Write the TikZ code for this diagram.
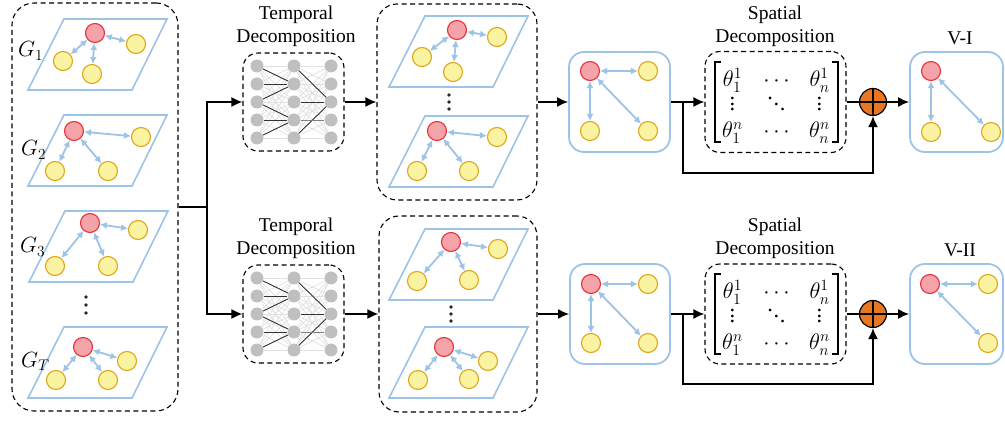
\RequirePackage{fix-cm}
\documentclass[tikz,border=0pt]{standalone}
\usepackage{fontspec}
\setmainfont{Liberation Serif}
\usetikzlibrary{arrows.meta}
\definecolor{eblue}{HTML}{9DC3E6}
\definecolor{rfill}{HTML}{F4A3A8}
\definecolor{rdraw}{HTML}{E8303A}
\definecolor{yfill}{HTML}{FAF4A2}
\definecolor{ydraw}{HTML}{DDA718}
\definecolor{nngray}{HTML}{BFBFBF}
\definecolor{porange}{HTML}{E87722}
\tikzset{
 rn/.style={circle, fill=rfill, draw=rdraw, line width=1.1pt, minimum size=19pt, inner sep=0pt},
 yn/.style={circle, fill=yfill, draw=ydraw, line width=1.1pt, minimum size=19pt, inner sep=0pt},
 ge/.style={draw=eblue, line width=1.8pt, {Latex[length=7pt,width=7pt]}-{Latex[length=7pt,width=7pt]}},
 plane/.style={draw=eblue, line width=1.6pt},
 dbox/.style={draw, dash pattern=on 5pt off 3.5pt, line width=1.1pt, rounded corners=18pt, inner sep=0pt},
 bbox/.style={draw=eblue, line width=1.8pt, rounded corners=15pt, inner sep=0pt},
 arr/.style={line width=1.6pt, -{Latex[length=11pt,width=10pt]}},
 ln/.style={line width=1.6pt},
 nnn/.style={circle, fill=nngray, minimum size=13pt, inner sep=0pt},
 nnlight/.style={draw=black!12, line width=0.7pt},
 nndark/.style={draw=black!80, line width=0.9pt},
 nnmid/.style={draw=black!50, line width=0.9pt},
 lbl/.style={font=\fontsize{19.5}{23}\selectfont, anchor=base, inner sep=0pt},
 glbl/.style={font=\fontsize{22}{26}\selectfont, anchor=base west, inner sep=0pt},
 ment/.style={font=\fontsize{22.5}{27}\selectfont, anchor=base, inner sep=0pt},
 plusn/.style={circle, fill=porange, draw=black, line width=1.2pt, minimum size=27pt, inner sep=0pt},
 brk/.style={line width=1.5pt},
 edot/.style={circle, fill=black!85, minimum size=3.6pt, inner sep=0pt},
}
\newcommand{\gsub}[6]{%
 \draw[plane] (#2) ++(36,-71) -- ++(103,0) -- ++(-35,71) -- ++(-104,0) -- cycle;
 \node[rn] (#1r) at (#3) {};
 \node[yn] (#1a) at (#4) {};
 \node[yn] (#1b) at (#5) {};
 \node[yn] (#1c) at (#6) {};
 \draw[ge] (#1r) -- (#1a);
 \draw[ge] (#1r) -- (#1b);
 \draw[ge] (#1r) -- (#1c);
}
\newcommand{\nnet}[3]{%
 \foreach \c/\dx in {1/-37,2/0,3/37}{
  \foreach \r/\dy in {1/-36,2/-18,3/0,4/18,5/36}{
    \node[nnn] (#1c\c r\r) at ({#2+\dx},{#3+\dy}) {};
  }}
 \foreach \i in {1,...,5}{\foreach \j in {1,...,5}{
   \draw[nnlight] (#1c1r\i) -- (#1c2r\j);
   \draw[nnlight] (#1c2r\i) -- (#1c3r\j);}}
 \foreach \i/\j in {1/2,2/2,3/2,3/4,4/4,5/4}{\draw[nndark] (#1c1r\i) -- (#1c2r\j);}
 \foreach \i/\j in {1/3,3/3,5/3}{\draw[nndark] (#1c2r\i) -- (#1c3r\j);}
 \draw[nnmid] (#1c2r4) -- (#1c3r4);
}
\newcommand{\myvd}{\vbox{\baselineskip=5.5pt\lineskiplimit=0pt\hbox{.}\hbox{.}\hbox{.}}}
\newcommand{\mydd}{\hbox{\raise11pt\hbox{.}\kern0.6pt\raise5.5pt\hbox{.}\kern0.6pt\hbox{.}}}
\newcommand{\tmat}[3]{%
 \node[ment] (#1a) at ({#2-43},{#3-15}) {$\theta_1^1$};
 \node[ment] (#1b) at ({#2+1},{#3-15}) {$\cdots$};
 \node[ment] (#1c) at ({#2+44},{#3-15}) {$\theta_n^1$};
 \node[ment] (#1d) at ({#2-43},{#3+9}) {\myvd};
 \node[ment] (#1e) at ({#2+1},{#3+9}) {\mydd};
 \node[ment] (#1f) at ({#2+44},{#3+9}) {\myvd};
 \node[ment] (#1g) at ({#2-43},{#3+36}) {$\theta_1^n$};
 \node[ment] (#1h) at ({#2+1},{#3+36}) {$\cdots$};
 \node[ment] (#1i) at ({#2+44},{#3+36}) {$\theta_n^n$};
 \draw[brk] ({#2-54.5},{#3-40}) -- ({#2-60.5},{#3-40}) -- ({#2-60.5},{#3+40}) -- ({#2-54.5},{#3+40});
 \draw[brk] ({#2+56.5},{#3-40}) -- ({#2+62.5},{#3-40}) -- ({#2+62.5},{#3+40}) -- ({#2+56.5},{#3+40});
}
\begin{document}
\begin{tikzpicture}[x=1pt,y=-1pt]
\useasboundingbox (0,0) rectangle (1005,422);
% left dashed box
\node[dbox, rounded corners=22pt, minimum width=166pt, minimum height=408pt] (L) at (95,207) {};
\gsub{ga}{28,90}{95,33}{136,44}{63,61}{92,74}
\gsub{gb}{28,186}{74,131}{141,137}{55,171}{108,171}
\gsub{gc}{29,282}{90,223}{138,230}{55,266}{108,266}
\gsub{gt}{28,398}{83,347}{127,361}{56,380}{108,380}
\node[glbl] (la) at (18,57) {$G_1$};
\node[glbl] (lb) at (21,156) {$G_2$};
\node[glbl] (lc) at (20,253) {$G_3$};
\node[glbl] (lt) at (21,367) {$G_T$};
\foreach \y in {297,305,313} \node[edot] at (86,\y) {};
% temporal boxes
\node[dbox, rounded corners=15pt, minimum width=101pt, minimum height=98pt] (T1) at (293.5,102) {};
\node[dbox, rounded corners=15pt, minimum width=101pt, minimum height=98pt] (T2) at (293.5,314) {};
\nnet{na}{294}{102}
\nnet{nb}{294}{314}
\node[lbl] (tl1) at (296,20) {Temporal};
\node[lbl] (tl2) at (296,43) {Decomposition};
\node[lbl] (tl3) at (296,232) {Temporal};
\node[lbl] (tl4) at (296,255) {Decomposition};
% middle dashed boxes
\node[dbox, rounded corners=20pt, minimum width=160pt, minimum height=196pt] (M1) at (457,102) {};
\node[dbox, rounded corners=20pt, minimum width=158pt, minimum height=196pt] (M2) at (458,314) {};
\gsub{pa}{389,87}{457,30}{497,37}{422,57}{453,72}
\gsub{pb}{389,187}{437,131}{497,137}{417,171}{469,171}
\gsub{pc}{389,300}{451,242}{498,249}{417,281}{469,280}
\gsub{pd}{389,398}{444,347}{488,361}{418,380}{469,379}
\foreach \y in {95,102,109} \node[edot] at (449,\y) {};
\foreach \y in {307,314,321} \node[edot] at (451,\y) {};
% blue graph boxes
\node[bbox, minimum width=101pt, minimum height=100pt] (B1) at (619.5,102) {};
\node[bbox, minimum width=100pt, minimum height=100pt] (B2) at (620,314) {};
\node[rn] (b1r) at (590,71) {};
\node[yn] (b1a) at (648,71) {};
\node[yn] (b1b) at (590,131) {};
\node[yn] (b1c) at (648,131) {};
\draw[ge] (b1r) -- (b1a); \draw[ge] (b1r) -- (b1b); \draw[ge] (b1r) -- (b1c);
\node[rn] (b2r) at (591,284) {};
\node[yn] (b2a) at (648,284) {};
\node[yn] (b2b) at (591,343) {};
\node[yn] (b2c) at (648,343) {};
\draw[ge] (b2r) -- (b2a); \draw[ge] (b2r) -- (b2b); \draw[ge] (b2r) -- (b2c);
% spatial matrices
\node[dbox, rounded corners=15pt, minimum width=141pt, minimum height=101pt] (X1) at (775.5,102) {};
\node[dbox, rounded corners=15pt, minimum width=141pt, minimum height=100pt] (X2) at (775.5,314) {};
\tmat{ma}{775.5}{102}
\tmat{mb}{775.5}{314}
\node[lbl] (sl1) at (775,20) {Spatial};
\node[lbl] (sl2) at (775,43) {Decomposition};
\node[lbl] (sl3) at (775,232) {Spatial};
\node[lbl] (sl4) at (775,255) {Decomposition};
% plus nodes
\node[plusn] (P1) at (873,102) {};
\draw[line width=1.2pt] (P1.north) -- (P1.south) (P1.west) -- (P1.east);
\node[plusn] (P2) at (873,314) {};
\draw[line width=1.2pt] (P2.north) -- (P2.south) (P2.west) -- (P2.east);
% output boxes
\node[bbox, minimum width=93pt, minimum height=100pt] (V1) at (956.5,102) {};
\node[bbox, minimum width=93pt, minimum height=100pt] (V2) at (956.5,314) {};
\node[lbl] (vl1) at (960,45) {V-I};
\node[lbl] (vl2) at (960,257) {V-II};
\node[rn] (v1r) at (931,71) {};
\node[yn] (v1b) at (931,132) {};
\node[yn] (v1c) at (991,132) {};
\draw[ge] (v1r) -- (v1b); \draw[ge] (v1r) -- (v1c);
\node[rn] (v2r) at (930,284) {};
\node[yn] (v2a) at (988,284) {};
\node[yn] (v2c) at (988,343) {};
\draw[ge] (v2r) -- (v2a); \draw[ge] (v2r) -- (v2c);
% connectors
\coordinate (sp) at (207,207);
\draw[ln] (L.east) -- (sp);
\draw[arr] (sp) |- (T1.west);
\draw[arr] (sp) |- (T2.west);
\draw[arr] (T1.east) -- (M1.west);
\draw[arr] (T2.east) -- (M2.west);
\draw[arr] (M1.east) -- (B1.west);
\draw[arr] (M2.east) -- (B2.west);
\draw[arr] (B1.east) -- (X1.west);
\draw[arr] (B2.east) -- (X2.west);
\coordinate (s1) at (683,102);
\coordinate (k1) at (683,173);
\coordinate (s2) at (683,314);
\coordinate (k2) at (683,384);
\draw[arr] (s1) -- (k1) -| (P1.south);
\draw[arr] (s2) -- (k2) -| (P2.south);
\draw[ln] (X1.east) -- (P1.west);
\draw[ln] (X2.east) -- (P2.west);
\draw[arr] (P1.east) -- (V1.west);
\draw[arr] (P2.east) -- (V2.west);
\end{tikzpicture}
\end{document}
